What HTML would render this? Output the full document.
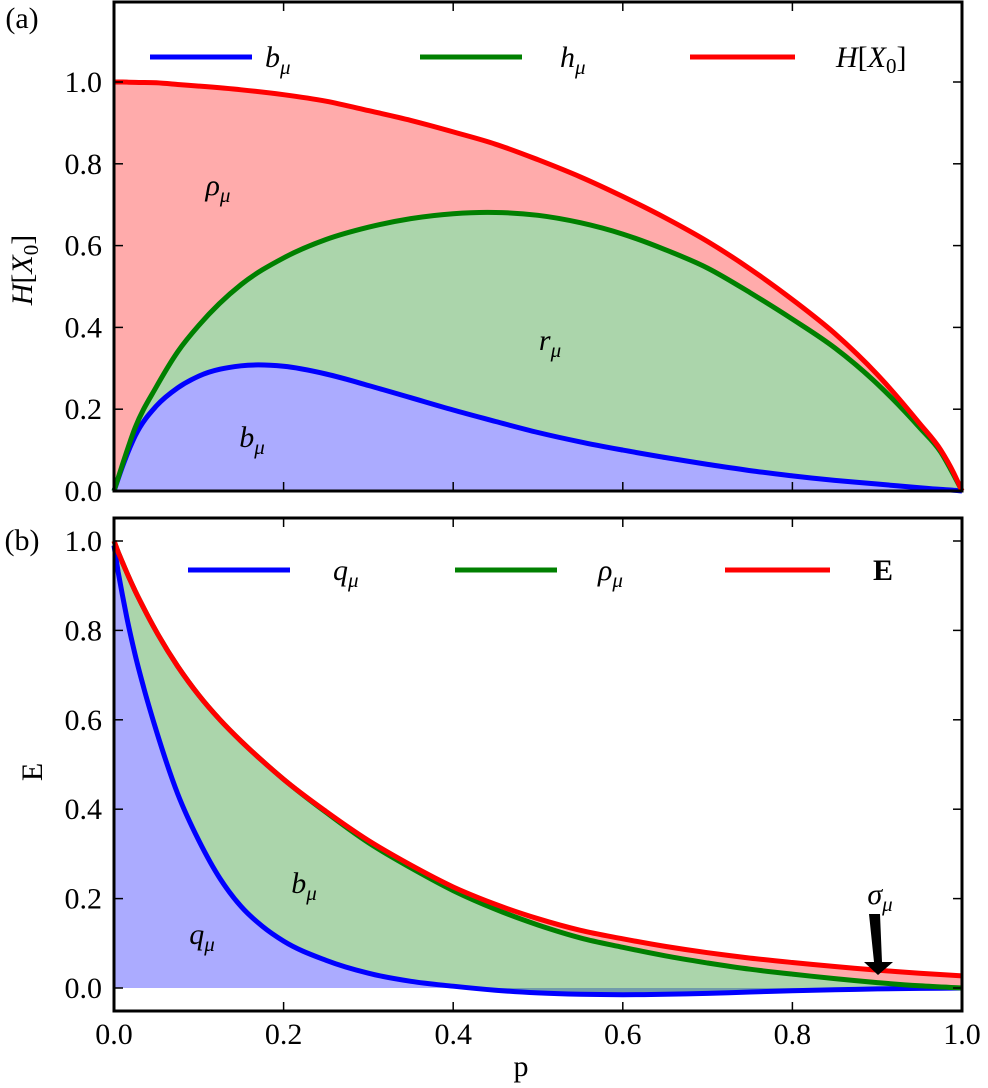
<!DOCTYPE html>
<html><head><meta charset="utf-8"><style>
html,body{margin:0;padding:0;background:#fff}
svg text{font-family:"Liberation Serif",serif;fill:#000}
.tk{font-size:30px}
.it{font-style:italic}
</style></head><body>
<svg id="c" width="988" height="1083" viewBox="0 0 988 1083" xmlns="http://www.w3.org/2000/svg"></svg>
<script>
// ---- data ----
const pTop = [0,0.01,0.025,0.05,0.075,0.1,0.15,0.2,0.25,0.3,0.35,0.4,0.45,0.5,0.55,0.6,0.65,0.7,0.75,0.8,0.85,0.9,0.95,0.975,0.99,1];
const Htop = [1,1,0.999,0.998,0.994,0.99,0.981,0.969,0.953,0.93,0.906,0.878,0.848,0.81,0.768,0.72,0.668,0.61,0.543,0.468,0.385,0.285,0.165,0.1,0.045,0];
const hTop = [0,0.065,0.155,0.255,0.34,0.405,0.505,0.57,0.615,0.645,0.666,0.678,0.681,0.674,0.656,0.628,0.59,0.545,0.485,0.42,0.35,0.262,0.155,0.095,0.04,0];
const bTop = [0,0.06,0.135,0.208,0.252,0.281,0.306,0.305,0.286,0.258,0.228,0.198,0.17,0.143,0.12,0.1,0.082,0.065,0.05,0.037,0.026,0.017,0.008,0.004,0.002,0];
const pBot = [0,0.005,0.01,0.015,0.025,0.035,0.05,0.075,0.1,0.125,0.15,0.175,0.2,0.25,0.3,0.35,0.4,0.45,0.5,0.55,0.6,0.65,0.7,0.75,0.8,0.85,0.9,0.95,1];
const Ebot = [1,0.975,0.952,0.93,0.888,0.85,0.797,0.72,0.655,0.6,0.552,0.508,0.467,0.395,0.33,0.275,0.226,0.187,0.155,0.129,0.11,0.093,0.079,0.067,0.057,0.048,0.04,0.033,0.027];
const rhoBot = [1,0.975,0.952,0.93,0.888,0.85,0.797,0.72,0.655,0.6,0.552,0.508,0.467,0.393,0.325,0.269,0.218,0.176,0.141,0.112,0.091,0.072,0.056,0.042,0.031,0.021,0.012,0.005,0];
const qBot = [0.99,0.93,0.878,0.83,0.745,0.672,0.575,0.435,0.33,0.245,0.182,0.138,0.105,0.062,0.033,0.015,0.004,-0.005,-0.011,-0.014,-0.015,-0.014,-0.012,-0.009,-0.006,-0.004,-0.002,-0.001,0];
const yTicksTop = [0,0.2,0.4,0.6,0.8,1.0];
const yTicksBot = [0,0.2,0.4,0.6,0.8,1.0];
const xTicks = [0,0.2,0.4,0.6,0.8,1.0];

const svg = document.getElementById('c');
const NS = 'http://www.w3.org/2000/svg';
function mk(tag, attrs, parent){const e=document.createElementNS(NS,tag);for(const k in attrs)e.setAttribute(k,attrs[k]);(parent||svg).appendChild(e);return e;}
const X0=114, X1=962;
const sx = p => X0 + p*(X1-X0);
const syT = v => 491 - v*409;
const syB = v => 988 - v*447;

function pts(ps, vs, sy){return ps.map((p,i)=>[sx(p), sy(vs[i])]);}
function tangents(P){
  const n=P.length, d=[], m=[];
  for(let i=0;i<n-1;i++) d.push((P[i+1][1]-P[i][1])/(P[i+1][0]-P[i][0]));
  m[0]=d[0]; m[n-1]=d[n-2];
  for(let i=1;i<n-1;i++){ const h0=P[i][0]-P[i-1][0], h1=P[i+1][0]-P[i][0]; m[i]=(d[i-1]*h1+d[i]*h0)/(h0+h1); }
  return m;}
function segs(P,m,rev){
  let s='';
  if(!rev){for(let i=0;i<P.length-1;i++){const h=(P[i+1][0]-P[i][0])/3;
    s+=' C'+(P[i][0]+h).toFixed(1)+','+(P[i][1]+m[i]*h).toFixed(1)+' '+(P[i+1][0]-h).toFixed(1)+','+(P[i+1][1]-m[i+1]*h).toFixed(1)+' '+P[i+1][0].toFixed(1)+','+P[i+1][1].toFixed(1);}}
  else{for(let i=P.length-1;i>0;i--){const h=(P[i][0]-P[i-1][0])/3;
    s+=' C'+(P[i][0]-h).toFixed(1)+','+(P[i][1]-m[i]*h).toFixed(1)+' '+(P[i-1][0]+h).toFixed(1)+','+(P[i-1][1]+m[i-1]*h).toFixed(1)+' '+P[i-1][0].toFixed(1)+','+P[i-1][1].toFixed(1);}}
  return s;}
function smooth(P){return 'M'+P[0][0].toFixed(1)+','+P[0][1].toFixed(1)+segs(P,tangents(P),false);}
function band(ps, up, lo, sy, color, name){
  const U=pts(ps,up,sy), L=pts(ps,lo,sy);
  const d=smooth(U)+' L'+L[L.length-1][0].toFixed(1)+','+L[L.length-1][1].toFixed(1)+segs(L,tangents(L),true)+' Z';
  const e = mk('path',{d:d,fill:color,'fill-opacity':0.33,stroke:'none'});
  
  
}
function line(ps, vs, sy, color, name){
  const e = mk('path',{d:smooth(pts(ps,vs,sy)),fill:'none',stroke:color,'stroke-width':5});
  
  
}
function txt(x,y,s,cls,name,anchor){
  const e=mk('text',{x:x,y:y,class:cls||'tk','text-anchor':anchor||'middle'});e.innerHTML=s;
  
  
  return e;
}
const sub = s => '<tspan class="it" font-size="21" dy="7">'+s+'</tspan>';
const zeros = pTop.map(()=>0), zerosB = pBot.map(()=>0);

// ---- top panel ----
band(pTop,Htop,hTop,syT,'#ff0000','rho-area-top');
band(pTop,hTop,bTop,syT,'#008000','r-area-top');
band(pTop,bTop,zeros,syT,'#0000ff','b-area-top');
line(pTop,bTop,syT,'#0000ff','b-mu-line');
line(pTop,hTop,syT,'#008000','h-mu-line');
line(pTop,Htop,syT,'#ff0000','H-X0-line');

// ---- bottom panel ----
band(pBot,qBot,zerosB,syB,'#0000ff','q-area-bottom');
band(pBot,rhoBot,qBot,syB,'#008000','b-area-bottom');
band(pBot,Ebot,rhoBot,syB,'#ff0000','sigma-area-bottom');
line(pBot,qBot,syB,'#0000ff','q-mu-line');
line(pBot,rhoBot,syB,'#008000','rho-mu-line');
line(pBot,Ebot,syB,'#ff0000','E-line');

// frames & ticks
function frame(y0,y1,sy,yt,name,labels){
  const f=mk('rect',{x:X0,y:y0,width:X1-X0,height:y1-y0,fill:'none',stroke:'#000','stroke-width':3});
  
  
  yt.forEach(v=>{const y=sy(v);
    mk('line',{x1:X0,x2:X0+9,y1:y,y2:y,stroke:'#000','stroke-width':1.5});
    mk('line',{x1:X1-9,x2:X1,y1:y,y2:y,stroke:'#000','stroke-width':1.5});
    txt(X0-12,y+10,v.toFixed(1),'tk','y-tick-label','end');});
  xTicks.forEach(p=>{const x=sx(p);
    mk('line',{x1:x,x2:x,y1:y1,y2:y1-9,stroke:'#000','stroke-width':1.5});
    mk('line',{x1:x,x2:x,y1:y0,y2:y0+9,stroke:'#000','stroke-width':1.5});
    if(labels) txt(x,y1+33,p.toFixed(1),'tk','x-tick-label');});
}
frame(2,491,syT,yTicksTop,'top-axes-frame',false);
frame(518,1011,syB,yTicksBot,'bottom-axes-frame',true);

// axis labels
let yl=txt(0,0,'<tspan class="it">H</tspan>[<tspan class="it">X</tspan><tspan font-size="21" dy="6">0</tspan><tspan dy="-6">]</tspan>','tk','y-axis-title-top');
yl.setAttribute('transform','translate(32,270) rotate(-90)');
let yl2=txt(0,0,'E','tk','y-axis-title-bottom');
yl2.setAttribute('transform','translate(42,772) rotate(-90)');
txt(521,1076,'p','tk','x-axis-title');
txt(22,28,'(a)','tk','panel-label-a');
txt(22,550,'(b)','tk','panel-label-b');

// legends
function leg(x1,x2,y,color,label,lx,name){
  const l=mk('line',{x1:x1,x2:x2,y1:y,y2:y,stroke:color,'stroke-width':5});
  
  
  txt(lx,y+10,label,'tk',name,'start');
}
leg(150,252,57,'#0000ff','<tspan class="it">b</tspan>'+sub('μ'),265,'legend-entry-b-mu');
leg(420,522,57,'#008000','<tspan class="it">h</tspan>'+sub('μ'),560,'legend-entry-h-mu');
leg(690,795,57,'#ff0000','<tspan class="it">H</tspan>[<tspan class="it">X</tspan><tspan font-size="21" dy="6">0</tspan><tspan dy="-6">]</tspan>',836,'legend-entry-H-X0');
leg(188,290,570,'#0000ff','<tspan class="it">q</tspan>'+sub('μ'),333,'legend-entry-q-mu');
leg(455,557,570,'#008000','<tspan class="it">ρ</tspan>'+sub('μ'),598,'legend-entry-rho-mu');
leg(725,830,570,'#ff0000','<tspan font-weight="bold">E</tspan>',873,'legend-entry-E');

// region annotations
txt(218,195,'<tspan class="it">ρ</tspan>'+sub('μ'),'tk','rho-mu-annotation');
txt(550,350,'<tspan class="it">r</tspan>'+sub('μ'),'tk','r-mu-annotation');
txt(252,447,'<tspan class="it">b</tspan>'+sub('μ'),'tk','b-mu-annotation');
txt(304,893,'<tspan class="it">b</tspan>'+sub('μ'),'tk','b-mu-annotation-bottom');
txt(202,944,'<tspan class="it">q</tspan>'+sub('μ'),'tk','q-mu-annotation');
txt(880,904,'<tspan class="it">σ</tspan>'+sub('μ'),'tk','sigma-mu-annotation');
const ar=mk('path',{d:'M869,914 L880,914 L882,962 L893,962 L878,975 L864,962 L874,962 Z',fill:'#000'});


</script>
</body></html>
